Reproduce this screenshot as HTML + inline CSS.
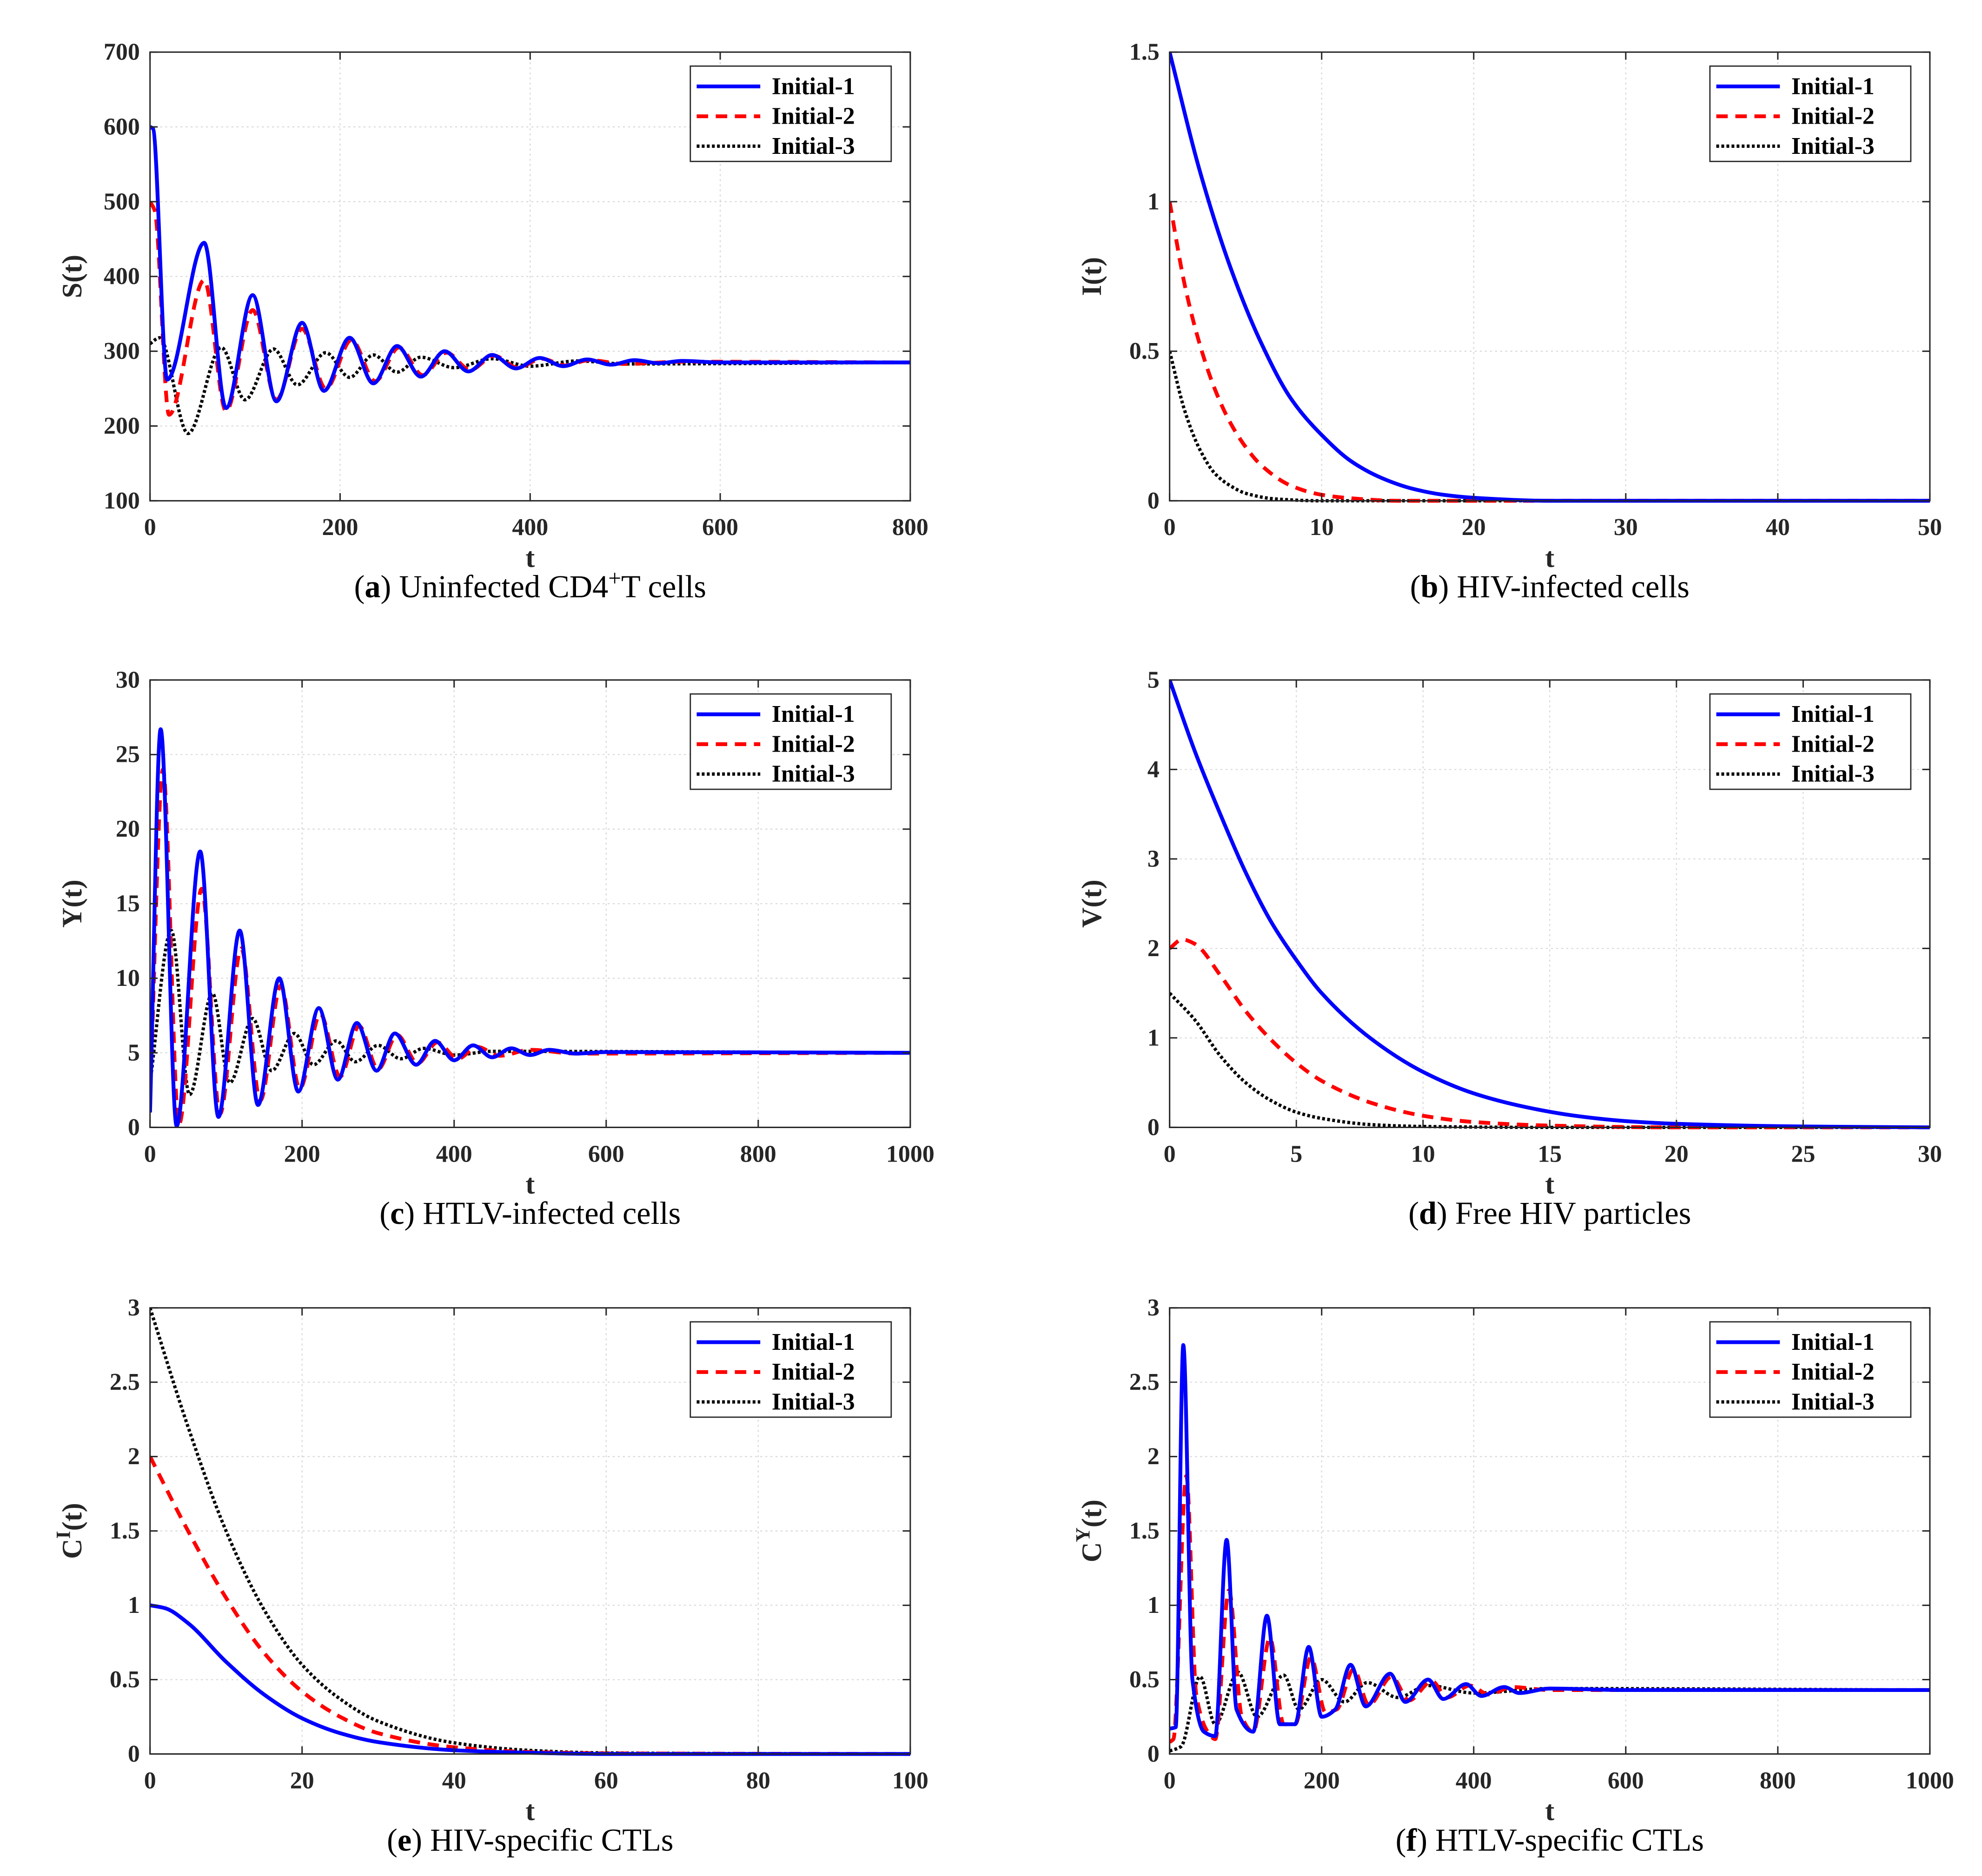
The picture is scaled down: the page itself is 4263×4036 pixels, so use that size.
<!DOCTYPE html>
<html><head><meta charset="utf-8"><style>html,body{margin:0;padding:0;background:#fff}svg{display:block}</style></head>
<body>
<svg id="fig" width="4263" height="4036" viewBox="0 0 1559 1476" xmlns="http://www.w3.org/2000/svg" font-family="'Liberation Serif', serif"></svg>
<script>
// Panel a: S(t)
const sInit1=[[0,600],[3,598],[18,262],[57,445],[80,224],[108,375],[133,233],[160,338],[183,247],[210,318],[235,257],[260,307],[285,266],[310,300],[335,273],[360,295],[385,277],[410,291],[435,280],[460,289],[485,282],[510,288],[535,284],[560,287],[600,285],[800,285]];
const sInit2=[[0,500],[5,488],[20,215],[57,395],[80,220],[108,355],[133,235],[160,330],[185,250],[212,315],[237,260],[262,305],[287,268],[312,298],[337,275],[362,294],[387,278],[412,290],[437,281],[462,288],[500,283],[560,286],[800,285]];
const sInit3=[[0,310],[10,318],[40,190],[75,305],[100,235],[130,303],[155,255],[185,298],[210,265],[235,295],[260,272],[285,292],[320,278],[360,290],[400,280],[450,287],[500,283],[800,285]];
// Panel b: I(t)
const iInit1=[[0,1.5],[2,1.1],[4,0.78],[6,0.53],[8,0.34],[10,0.22],[12,0.13],[14,0.075],[16,0.04],[18,0.02],[20,0.01],[25,0],[50,0]];
const iInit2=[[0,1.0],[1,0.72],[2,0.52],[3,0.37],[4,0.26],[5,0.18],[6,0.12],[8,0.05],[10,0.02],[12,0.008],[15,0],[50,0]];
const iInit3=[[0,0.5],[1,0.3],[2,0.17],[3,0.09],[4,0.05],[5,0.025],[7,0.006],[10,0],[50,0]];
// Panel c: Y(t)
const yInit1=[[0,1],[14,26.7],[35,0.1],[66,18.5],[90,0.7],[118,13.2],[142,1.5],[170,10],[195,2.4],[222,8],[247,3.2],[272,7],[298,3.8],[322,6.3],[350,4.2],[375,5.8],[400,4.5],[425,5.5],[450,4.7],[475,5.3],[500,4.85],[525,5.2],[560,4.95],[600,5.05],[1000,5]];
const yInit2=[[0,2],[17,24],[38,0.2],[68,16],[92,0.9],[120,12],[145,1.8],[172,9.5],[197,2.6],[224,7.6],[250,3.4],[275,6.8],[300,3.9],[325,6.2],[352,4.3],[378,5.7],[405,4.6],[430,5.4],[460,4.8],[500,5.2],[560,4.95],[1000,5]];
const yInit3=[[0,3],[28,13.2],[52,2.2],[82,9],[105,3],[135,7.3],[160,3.8],[190,6.3],[215,4.2],[245,5.8],[270,4.4],[300,5.5],[330,4.6],[360,5.3],[400,4.85],[450,5.1],[1000,5]];
// Panel d: V(t)
const vInit1=[[0,5],[1,4.2],[2,3.5],[3,2.85],[4,2.3],[5,1.87],[6,1.5],[8,0.98],[10,0.62],[12,0.38],[14,0.23],[16,0.13],[18,0.07],[20,0.04],[25,0.01],[30,0]];
const vInit2=[[0,2.0],[0.5,2.1],[1,2.05],[2,1.7],[3,1.3],[4,0.98],[5,0.72],[6,0.52],[8,0.27],[10,0.13],[12,0.06],[15,0.02],[20,0],[30,0]];
const vInit3=[[0,1.5],[1,1.2],[2,0.8],[3,0.5],[4,0.3],[5,0.17],[6,0.1],[8,0.03],[10,0.01],[15,0],[30,0]];
// Panel e: C^I(t)
const ciInit1=[[0,1],[2,0.98],[5,0.88],[10,0.62],[15,0.4],[20,0.24],[25,0.14],[30,0.08],[40,0.025],[50,0.008],[60,0],[100,0]];
const ciInit2=[[0,2],[5,1.5],[10,1.05],[15,0.68],[20,0.42],[25,0.25],[30,0.14],[40,0.045],[50,0.013],[60,0.004],[100,0]];
const ciInit3=[[0,3],[5,2.2],[10,1.5],[15,0.97],[20,0.6],[25,0.37],[30,0.22],[40,0.075],[50,0.024],[60,0.007],[100,0]];
// Panel f: C^Y(t)
const cyInit1=[[0,0.17],[8,0.18],[18,2.75],[30,0.5],[45,0.15],[60,0.12],[75,1.44],[88,0.3],[110,0.15],[128,0.93],[145,0.2],[165,0.2],[183,0.72],[200,0.25],[218,0.3],[238,0.6],[258,0.32],[290,0.54],[310,0.35],[340,0.5],[360,0.37],[390,0.47],[410,0.39],[440,0.45],[460,0.41],[500,0.44],[600,0.43],[1000,0.43]];
const cyInit2=[[0,0.08],[5,0.1],[22,1.87],[35,0.4],[50,0.15],[60,0.1],[78,1.1],[95,0.25],[110,0.15],[132,0.78],[150,0.2],[165,0.2],[186,0.65],[205,0.28],[220,0.3],[242,0.57],[262,0.33],[292,0.52],[315,0.36],[345,0.49],[365,0.38],[395,0.46],[420,0.4],[450,0.45],[500,0.43],[1000,0.43]];
const cyInit3=[[0,0.02],[15,0.05],[40,0.52],[60,0.2],[90,0.55],[115,0.25],[150,0.53],[170,0.3],[200,0.5],[230,0.35],[260,0.48],[300,0.38],[340,0.46],[400,0.41],[500,0.44],[1000,0.43]];

const xTicksA=[0,200,400,600,800], yTicksA=[100,200,300,400,500,600,700];
const xTicksB=[0,10,20,30,40,50], yTicksB=[0,0.5,1,1.5];
const xTicksC=[0,200,400,600,800,1000], yTicksC=[0,5,10,15,20,25,30];
const xTicksD=[0,5,10,15,20,25,30], yTicksD=[0,1,2,3,4,5];
const xTicksE=[0,20,40,60,80,100], yTicksE=[0,0.5,1,1.5,2,2.5,3];
const xTicksF=[0,200,400,600,800,1000], yTicksF=[0,0.5,1,1.5,2,2.5,3];

const NS="http://www.w3.org/2000/svg";
const svg=document.getElementById('fig');
function mk(tag,attrs,parent){const e=document.createElementNS(NS,tag);for(const k in attrs)e.setAttribute(k,attrs[k]);(parent||svg).appendChild(e);return e;}

// monotone cubic (Fritsch-Carlson) in pixel space
function smoothPath(pts,sx,sy){
  const x=pts.map(q=>sx(q[0])),y=pts.map(q=>sy(q[1]));
  const n=x.length,dl=[],m=[];
  for(let i=0;i<n-1;i++)dl.push((y[i+1]-y[i])/(x[i+1]-x[i]));
  m[0]=dl[0];m[n-1]=dl[n-2];
  for(let i=1;i<n-1;i++){
    if(dl[i-1]*dl[i]<=0)m[i]=0;
    else{const w1=2*(x[i+1]-x[i])+(x[i]-x[i-1]),w2=(x[i+1]-x[i])+2*(x[i]-x[i-1]);m[i]=(w1+w2)/(w1/dl[i-1]+w2/dl[i]);}
  }
  let d='M'+x[0].toFixed(2)+','+y[0].toFixed(2);
  for(let i=0;i<n-1;i++){
    const h=(x[i+1]-x[i])/3;
    d+=' C'+(x[i]+h).toFixed(2)+','+(y[i]+m[i]*h).toFixed(2)+' '+(x[i+1]-h).toFixed(2)+','+(y[i+1]-m[i+1]*h).toFixed(2)+' '+x[i+1].toFixed(2)+','+y[i+1].toFixed(2);
  }
  return d;
}
function fmt(v){return String(v);}

function panel(o){
  const g=mk('g',{});
  
  
  const L=o.x,T=o.y,W=598,H=o.h;
  const xmin=o.xt[0],xmax=o.xt[o.xt.length-1],ymin=o.yt[0],ymax=o.yt[o.yt.length-1];
  const sx=v=>L+(v-xmin)/(xmax-xmin)*W, sy=v=>T+H-(v-ymin)/(ymax-ymin)*H;
  mk('rect',{x:L,y:T,width:W,height:H,fill:'#fff'},g);
  const grid=mk('g',{stroke:'#d6d6d6','stroke-width':0.8,'stroke-dasharray':'1.5 2.5'},g);
  
  
  o.xt.forEach(v=>{if(v!==xmin&&v!==xmax)mk('line',{x1:sx(v),x2:sx(v),y1:T,y2:T+H},grid);});
  o.yt.forEach(v=>{if(v!==ymin&&v!==ymax)mk('line',{x1:L,x2:L+W,y1:sy(v),y2:sy(v)},grid);});
  const clip='clip'+o.id;
  const cp=mk('clipPath',{id:clip},g);mk('rect',{x:L,y:T-3,width:W,height:H+6},cp);
  const styles=[{c:'#0000ff',w:3,da:''},{c:'#ff0000',w:3,da:'9 6'},{c:'#000',w:2.6,da:'2.2 1.8'}];
  const names=['initial-1-line','initial-2-line','initial-3-line'];
  [2,1,0].forEach(i=>{
    const pth=mk('path',{d:smoothPath(o.series[i],sx,sy),fill:'none',stroke:styles[i].c,'stroke-width':styles[i].w,'stroke-dasharray':styles[i].da,'clip-path':'url(#'+clip+')'},g);
    
    
  });
  const ax=mk('g',{stroke:'#262626','stroke-width':1.1},g);
  mk('rect',{x:L,y:T,width:W,height:H,fill:'none'},ax);
  o.xt.forEach(v=>{mk('line',{x1:sx(v),x2:sx(v),y1:T+H,y2:T+H-6},ax);mk('line',{x1:sx(v),x2:sx(v),y1:T,y2:T+6},ax);});
  o.yt.forEach(v=>{mk('line',{x1:L,x2:L+6,y1:sy(v),y2:sy(v)},ax);mk('line',{x1:L+W,x2:L+W-6,y1:sy(v),y2:sy(v)},ax);});
  o.xt.forEach(v=>{const t=mk('text',{x:sx(v),y:T+H+27,'text-anchor':'middle','font-size':19,'font-weight':'bold',fill:'#262626'},g);t.textContent=fmt(v);});
  o.yt.forEach(v=>{const t=mk('text',{x:L-8,y:sy(v)+6,'text-anchor':'end','font-size':19,'font-weight':'bold',fill:'#262626'},g);t.textContent=fmt(v);});
  const xl=mk('text',{x:L+W/2,y:T+H+52,'text-anchor':'middle','font-size':22,'font-weight':'bold',fill:'#262626'},g);xl.textContent='t';
  
  const yl=mk('text',{x:0,y:0,'text-anchor':'middle','font-size':22,'font-weight':'bold',fill:'#262626',transform:'translate('+(L-54)+','+(T+H/2)+') rotate(-90)'},g);
  yl.innerHTML=o.ylab;
  
  const cap=mk('text',{x:L+W/2,y:T+H+76,'text-anchor':'middle','font-size':25,fill:'#000'},g);
  cap.innerHTML=o.cap;
  
  const lg=mk('g',{},g);
  
  const lx=L+W-173,ly=T+11;
  mk('rect',{x:lx,y:ly,width:158,height:75,fill:'#fff',stroke:'#262626','stroke-width':1},lg);
  ['Initial-1','Initial-2','Initial-3'].forEach((s,i)=>{
    const yy=ly+16+i*23.5;
    mk('line',{x1:lx+5,x2:lx+55,y1:yy,y2:yy,stroke:styles[i].c,'stroke-width':styles[i].w,'stroke-dasharray':styles[i].da},lg);
    const t=mk('text',{x:lx+64,y:yy+6,'font-size':19,'font-weight':'bold',fill:'#000'},lg);t.textContent=s;
    
  });
}
panel({id:'a',name:'panel-a-susceptible',x:118,y:41,h:353,xt:xTicksA,yt:yTicksA,series:[sInit1,sInit2,sInit3],ylab:'S(t)',cap:'(<tspan font-weight="bold">a</tspan>) Uninfected CD4<tspan dy="-9" font-size="18">+</tspan><tspan dy="9">T cells</tspan>'});
panel({id:'b',name:'panel-b-hiv-infected',x:920,y:41,h:353,xt:xTicksB,yt:yTicksB,series:[iInit1,iInit2,iInit3],ylab:'I(t)',cap:'(<tspan font-weight="bold">b</tspan>) HIV-infected cells'});
panel({id:'c',name:'panel-c-htlv-infected',x:118,y:535,h:352,xt:xTicksC,yt:yTicksC,series:[yInit1,yInit2,yInit3],ylab:'Y(t)',cap:'(<tspan font-weight="bold">c</tspan>) HTLV-infected cells'});
panel({id:'d',name:'panel-d-free-hiv',x:920,y:535,h:352,xt:xTicksD,yt:yTicksD,series:[vInit1,vInit2,vInit3],ylab:'V(t)',cap:'(<tspan font-weight="bold">d</tspan>) Free HIV particles'});
panel({id:'e',name:'panel-e-hiv-ctl',x:118,y:1029,h:351,xt:xTicksE,yt:yTicksE,series:[ciInit1,ciInit2,ciInit3],ylab:'C<tspan dy="-9" font-size="16">I</tspan><tspan dy="9">(t)</tspan>',cap:'(<tspan font-weight="bold">e</tspan>) HIV-specific CTLs'});
panel({id:'f',name:'panel-f-htlv-ctl',x:920,y:1029,h:351,xt:xTicksF,yt:yTicksF,series:[cyInit1,cyInit2,cyInit3],ylab:'C<tspan dy="-9" font-size="16">Y</tspan><tspan dy="9">(t)</tspan>',cap:'(<tspan font-weight="bold">f</tspan>) HTLV-specific CTLs'});
</script>
</body></html>
